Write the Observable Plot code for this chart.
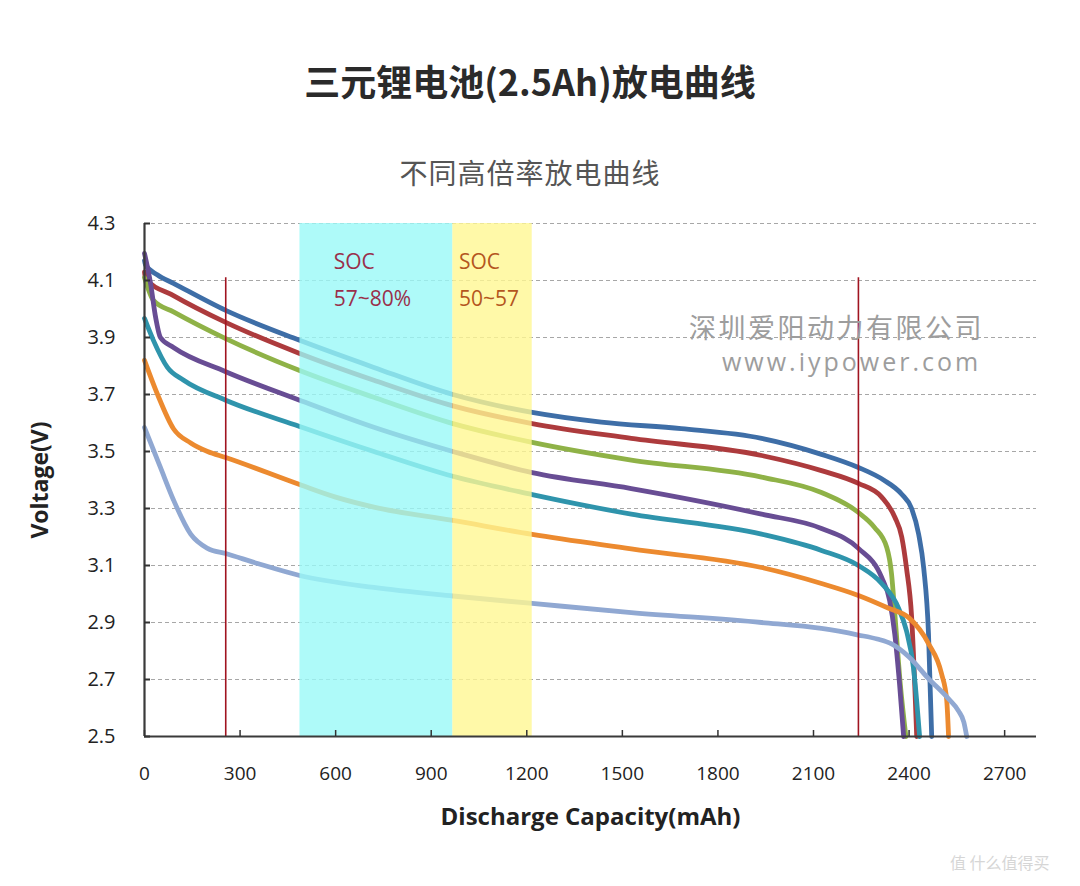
<!DOCTYPE html>
<html>
<head>
<meta charset="utf-8">
<script src="https://cdn.jsdelivr.net/npm/d3@7"></script>
<script src="https://cdn.jsdelivr.net/npm/@observablehq/plot@0.6"></script>
<style>
  body { margin: 0; background: #fff; }
  #wrap { position: relative; width: 1080px; height: 886px; overflow: hidden; background: #fff; }
  #wrap > div { position: absolute; white-space: nowrap; }
  .title { left: 0; width: 1060px; top: 60px; text-align: center; font: 700 36px/40px "Noto Sans CJK SC", sans-serif; color: #2a2a2a; }
  .subtitle { left: 0; width: 1060px; top: 155px; text-align: center; font: 400 28px/34px "Noto Sans CJK SC", sans-serif; color: #555; letter-spacing: 1px; }
  .wm1 { left: 689px; top: 313px; font: 400 27px/27px "Noto Sans CJK SC", sans-serif; color: #9d9d9d; letter-spacing: 2.5px; }
  .wm2 { left: 722px; top: 348px; font: 400 25px/26px "Open Sans", sans-serif; color: #9d9d9d; letter-spacing: 3px; }
  .wm3 { left: 950px; top: 850px; font: 400 16px/24px "Noto Sans CJK SC", sans-serif; color: #d6d6d6; }
  #chart { left: 0; top: 190px; }
</style>
</head>
<body>
<div id="wrap">
  <div class="title">三元锂电池(2.5Ah)放电曲线</div>
  <div class="subtitle">不同高倍率放电曲线</div>
  <div id="chart"></div>
  <div class="wm1">深圳爱阳动力有限公司</div>
  <div class="wm2">www.iypower.com</div>
  <div class="wm3">值 什么值得买</div>
</div>
<script>
// Discharge curves: [capacity (mAh), voltage (V)], one per discharge rate
const curve1 = [[0,4.17],[3,4.155],[40,4.12],[91,4.09],[255,3.995],[487,3.89],[720,3.795],[968,3.70],[1217,3.637],[1434,3.603],[1685,3.58],[1937,3.546],[2125,3.49],[2241,3.444],[2320,3.40],[2377,3.35],[2408,3.30],[2430,3.21],[2446,3.09],[2461,2.86],[2471,2.5]];
const curve2 = [[0,4.13],[3,4.107],[91,4.047],[255,3.953],[487,3.844],[720,3.75],[968,3.66],[1217,3.598],[1528,3.546],[1937,3.486],[2125,3.433],[2241,3.388],[2314,3.34],[2355,3.27],[2377,3.20],[2392,3.09],[2408,2.92],[2424,2.5]];
const curve3 = [[0,4.11],[28,4.03],[91,3.99],[255,3.896],[487,3.784],[720,3.69],[968,3.598],[1217,3.532],[1528,3.47],[1937,3.41],[2125,3.356],[2241,3.286],[2292,3.233],[2330,3.163],[2345,3.07],[2356,2.92],[2372,2.69],[2390,2.5]];
const curve4 = [[0,4.195],[19,4.09],[35,3.97],[50,3.90],[91,3.865],[255,3.78],[487,3.68],[720,3.585],[968,3.50],[1217,3.426],[1528,3.37],[1937,3.28],[2125,3.23],[2241,3.16],[2314,3.058],[2339,2.977],[2355,2.86],[2370,2.686],[2383,2.5]];
const curve5 = [[0,3.967],[28,3.89],[72,3.795],[123,3.75],[255,3.68],[487,3.588],[720,3.50],[968,3.413],[1217,3.349],[1528,3.28],[1937,3.21],[2125,3.153],[2241,3.10],[2314,3.037],[2367,2.95],[2392,2.87],[2414,2.74],[2433,2.5]];
const curve6 = [[0,3.82],[41,3.70],[91,3.58],[145,3.53],[198,3.50],[255,3.479],[487,3.384],[600,3.34],[720,3.305],[968,3.258],[1217,3.209],[1528,3.158],[1937,3.093],[2125,3.037],[2241,2.995],[2336,2.95],[2399,2.917],[2461,2.826],[2502,2.72],[2518,2.63],[2524,2.5]];
const curve7 = [[0,3.584],[50,3.444],[91,3.33],[145,3.21],[198,3.16],[255,3.142],[355,3.107],[487,3.065],[720,3.023],[968,2.993],[1217,2.967],[1528,2.935],[1937,2.90],[2125,2.879],[2241,2.856],[2300,2.842],[2345,2.825],[2399,2.78],[2461,2.703],[2524,2.632],[2555,2.59],[2572,2.55],[2581,2.5]];

const curveNames = ["c1", "c2", "c3", "c4", "c5", "c6", "c7"];
const curveColors = ["#3e6ea7", "#ad3b3d", "#8fb247", "#684d94", "#2f94ac", "#ec8a2f", "#90a8d2"];
const curvePoints = [curve1, curve2, curve3, curve4, curve5, curve6, curve7];

// Axis ticks
const xTicks = [0, 300, 600, 900, 1200, 1500, 1800, 2100, 2400, 2700];
const yTicks = [2.5, 2.7, 2.9, 3.1, 3.3, 3.5, 3.7, 3.9, 4.1, 4.3];

// State-of-charge windows and their labels
const socStart = [488, 968];
const socEnd = [968, 1217];
const socFills = ["#9af9f7", "#fff792"];
const socTitles = ["SOC", "SOC"];
const socRanges = ["57~80%", "50~57"];
const socTextColors = ["#9a2f4a", "#b4561e"];
const socTextCap = [594, 987];

// Red reference markers (mAh) and their top voltage
const markerCaps = [255, 2241];
const markerTop = 4.11;

const rows = curvePoints.flatMap((pts, i) => pts.map(([c, v]) => ({series: curveNames[i], cap: c, volt: v})));
const bands = socStart.map((s, i) => ({x1: s, x2: socEnd[i], fill: socFills[i]}));
const socLabels = socStart.flatMap((s, i) => [
  {cap: socTextCap[i], volt: 4.163, text: socTitles[i], color: socTextColors[i]},
  {cap: socTextCap[i], volt: 4.033, text: socRanges[i], color: socTextColors[i]}
]);

const chart = Plot.plot({
  width: 1080,
  height: 660,
  marginTop: 33,
  marginBottom: 114,
  marginLeft: 144,
  marginRight: 44,
  style: {fontFamily: "'Open Sans', sans-serif", background: "transparent", overflow: "visible"},
  x: {domain: [0, 2800]},
  y: {domain: [2.5, 4.3]},
  color: {domain: curveNames, range: curveColors},
  marks: [
    Plot.gridY(yTicks.filter(d => d > 2.5), {stroke: "#8a8a8a", strokeOpacity: 0.75, strokeDasharray: "4,3", strokeWidth: 1.2}),
    Plot.line(rows, {x: "cap", y: "volt", z: "series", stroke: "series", strokeWidth: 4.8, curve: "monotone-x", strokeLinejoin: "round"}),
    Plot.ruleX(markerCaps, {y1: 2.5, y2: markerTop, stroke: "#a01420", strokeWidth: 1.6}),
    Plot.rectX(bands, {x1: "x1", x2: "x2", y1: 2.5, y2: 4.3, fill: "fill", fillOpacity: 0.8}),
    Plot.text(socLabels, {x: "cap", y: "volt", text: "text", fill: "color", textAnchor: "start", fontSize: 21, fontFamily: "'Open Sans', sans-serif"}),
    Plot.ruleY([2.5], {stroke: "#3a3a3a", strokeWidth: 2}),
    Plot.ruleX([0], {y1: 2.5, y2: 4.3, stroke: "#3a3a3a", strokeWidth: 2.2}),
    Plot.axisX({ticks: xTicks, tickSize: -6, tickFormat: () => "", stroke: "#333", strokeWidth: 1.5, label: null}),
    Plot.axisX({ticks: xTicks, tickSize: 0, tickPadding: 30, tickFormat: d => String(d), fontSize: 19, fill: "#222", label: null}),
    Plot.axisY({ticks: yTicks, tickSize: -6, tickFormat: () => "", stroke: "#333", strokeWidth: 2, label: null}),
    Plot.axisY({ticks: yTicks, tickSize: 0, tickPadding: 29, tickFormat: d => d.toFixed(1), fontSize: 20, fill: "#222", label: null}),
    Plot.text(["Discharge Capacity(mAh)"], {frameAnchor: "bottom", dy: 88, fontSize: 24, fontWeight: "bold", fill: "#222"}),
    Plot.text(["Voltage(V)"], {frameAnchor: "left", textAnchor: "middle", dx: -104, rotate: -90, fontSize: 23, fontWeight: "bold", fill: "#222"})
  ]
});
document.getElementById("chart").appendChild(chart);
</script>
</body>
</html>
